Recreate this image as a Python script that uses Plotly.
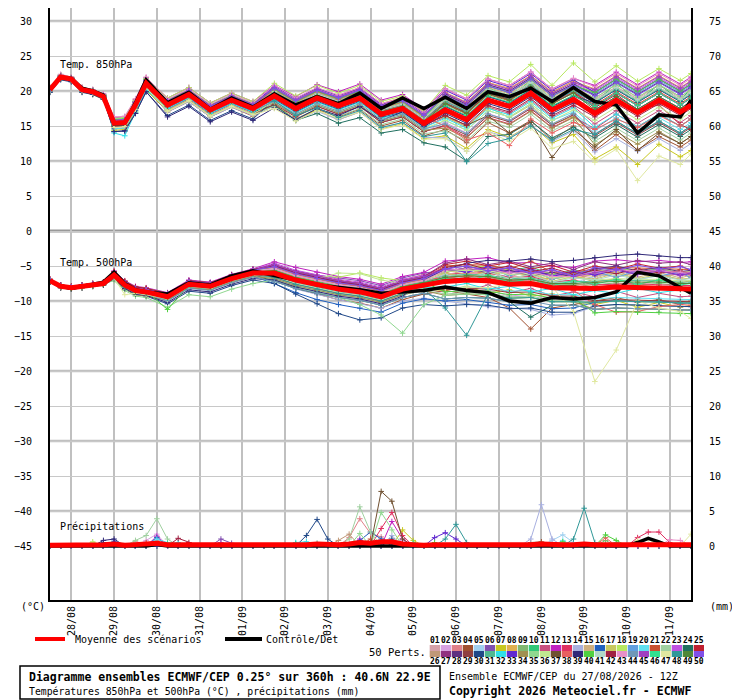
import pandas as pd
import plotly.graph_objects as go

# forecast hours after the 27/08/2026 12Z run
hours = [0, 6, 12, 18, 24, 30, 36, 42, 48, 54, 66, 78, 90, 102, 114, 126, 138, 150,
         162, 174, 186, 198, 210, 222, 234, 246, 258, 270, 282, 294, 306, 318, 330,
         342, 354, 360]
precip_hours = list(range(0, 361, 6))

# colours of the 50 perturbed members (01..50)
member_colors = [
    "#d4a0a8", "#d8a0e0", "#e08088", "#a05030", "#a0d0f0", "#8050b0", "#c8c820", "#e0b050",
    "#80b870", "#30c878", "#c85080", "#c020c0", "#e03060", "#a8b0e0", "#d0b080", "#2060c0",
    "#c8c860", "#b8e860", "#60a0e0", "#60e0f0", "#c85030", "#a0d0a0", "#c050e0", "#207060",
    "#c02030", "#c09878", "#903080", "#603080", "#904040", "#204888", "#50b890", "#30e0e8",
    "#6028d0", "#a09050", "#90d890", "#c0e890", "#705030", "#e86060", "#302878", "#50d040",
    "#b0d8c8", "#a02040", "#e890c8", "#7098b8", "#a040c0", "#30e090", "#e0e8a0", "#309898",
    "#508838", "#8050e8",
]

# Temperature 850 hPa (°C)
t850_mean = [20.2, 22.0, 21.7, 20.2, 19.9, 19.2, 15.4, 15.5, 18.0, 21.1, 18.0, 19.5, 17.3, 18.7, 17.5,
             19.3, 17.5, 19.0, 17.9, 19.0, 16.7, 17.5, 15.4, 17.3, 15.9, 18.7, 17.8, 19.7, 17.3, 18.8,
             16.8, 18.7, 16.9, 18.7, 17.0, 18.0]
t850_control = [20.2, 22.0, 21.8, 20.4, 20.0, 19.4, 15.3, 15.4, 18.3, 21.6, 18.3, 19.8, 17.4, 19.0, 17.7,
                19.6, 18.0, 19.2, 18.2, 19.7, 17.5, 19.0, 17.5, 19.1, 17.5, 19.9, 19.2, 20.4, 18.5, 20.5,
                18.5, 18.0, 14.0, 16.6, 16.3, 18.7]
t850_members = [
    [20.3,22.1,21.8,20.3,20.0,19.3,15.8,15.9,18.4,21.5,18.5,20.0,17.8,19.2,18.0,19.9,18.1,19.7,18.7,19.8,17.6,18.4,16.4,18.6,17.4,20.3,19.3,21.2,18.9,20.4,18.8,20.6,18.9,20.8,19.0,20.0],
    [20.1,21.9,21.6,20.1,19.8,19.1,15.1,15.2,17.7,20.8,17.5,19.0,16.8,18.2,17.0,18.6,16.7,18.1,16.9,18.0,15.6,16.4,14.2,15.5,14.0,16.8,15.7,17.6,15.1,16.5,13.9,15.7,13.8,15.6,14.0,15.0],
    [20.4,22.3,21.9,20.5,20.1,19.5,16.0,16.1,18.6,21.8,18.3,19.8,17.6,19.0,17.9,20.0,18.4,20.0,19.1,20.4,18.0,18.9,17.0,19.5,18.3,21.2,20.4,22.2,19.9,21.4,19.8,21.7,19.9,21.7,20.0,21.0],
    [20.0,21.8,21.5,20.0,19.6,18.9,14.6,14.7,17.2,20.3,17.0,18.5,16.3,17.7,16.4,18.0,16.0,17.4,16.3,17.4,15.0,15.8,13.6,14.5,12.6,15.5,14.0,15.8,13.0,15.0,11.5,13.8,11.6,13.5,12.0,13.0],
    [20.2,22.0,21.7,20.3,20.0,19.3,15.6,15.7,18.2,21.3,18.8,20.3,18.1,19.5,18.3,20.2,18.4,20.0,18.9,20.0,17.7,18.6,16.5,19.2,17.9,20.7,19.8,21.7,19.3,20.8,19.3,21.2,19.4,21.2,19.5,20.5],
    [20.3,22.1,21.8,20.3,20.0,19.3,15.7,15.8,18.3,21.4,18.0,19.5,17.3,18.8,17.6,19.7,17.9,19.5,18.4,19.5,17.2,18.0,16.0,18.3,16.9,19.7,18.8,20.7,18.4,20.0,18.3,20.2,18.4,20.2,18.5,19.5],
    [19.9,21.7,21.4,19.9,19.5,18.8,14.4,14.5,17.0,20.1,17.2,18.7,16.5,17.8,16.6,18.0,15.9,17.3,15.9,17.0,14.6,15.3,13.2,13.6,11.8,14.5,13.4,15.2,12.6,13.8,10.3,12.0,9.5,12.4,10.6,11.5],
    [20.4,22.2,21.9,20.4,20.1,19.5,15.9,16.0,18.5,21.6,18.7,20.2,18.0,19.4,18.3,20.4,18.7,20.4,19.4,20.5,18.2,19.1,17.0,19.8,18.4,21.2,20.3,22.2,19.8,21.4,20.3,22.2,20.4,22.2,20.5,21.5],
    [20.2,22.0,21.6,20.2,19.9,19.2,15.2,15.3,17.8,20.9,18.2,19.7,17.5,18.9,17.7,19.6,17.8,19.3,18.2,19.3,17.0,17.8,15.7,17.8,16.4,19.2,18.3,20.2,17.8,19.2,16.8,18.6,16.9,18.7,17.0,18.0],
    [20.3,22.1,21.8,20.3,20.1,19.3,15.8,15.9,18.4,21.5,18.5,20.0,17.8,19.2,18.0,20.2,18.4,20.0,18.9,20.0,17.7,18.5,16.4,19.2,16.8,20.6,18.8,21.6,18.2,20.8,18.2,21.2,18.4,21.0,18.6,20.4],
    [20.1,21.9,21.6,20.1,19.8,19.1,15.4,15.5,18.0,21.1,17.7,19.2,17.0,18.4,17.2,18.8,17.0,18.5,17.4,18.5,16.2,16.9,14.8,16.3,14.9,17.7,16.8,18.7,16.3,17.8,15.3,17.2,15.4,17.2,15.5,16.5],
    [20.5,22.3,22.0,20.5,20.2,19.6,16.2,16.3,18.8,21.9,19.0,20.5,18.3,19.7,18.5,20.8,19.2,20.9,19.9,21.0,18.7,19.5,17.4,20.3,18.9,21.7,20.8,22.7,20.3,21.8,20.8,22.7,20.9,22.7,21.0,22.0],
    [20.2,22.0,21.7,20.2,19.8,19.2,15.1,15.2,17.7,20.8,17.4,18.9,16.7,18.1,16.9,18.3,16.4,17.8,16.7,17.8,15.5,16.3,14.2,15.0,13.4,16.2,15.3,17.2,14.8,16.3,14.6,16.7,14.9,16.7,15.0,16.0],
    [20.0,21.8,21.5,20.0,19.7,19.0,14.9,15.0,17.5,20.6,17.0,18.5,16.3,17.7,16.5,17.9,15.8,17.1,15.9,17.0,14.7,15.5,13.4,13.3,11.4,14.2,13.3,15.2,12.8,14.3,11.3,13.2,11.4,13.2,11.5,12.5],
    [20.3,22.1,21.8,20.3,20.0,19.3,15.7,15.8,18.3,21.4,18.2,19.7,17.5,18.9,17.8,20.0,18.3,19.8,18.7,19.8,17.5,18.3,16.2,19.1,17.7,20.5,19.6,21.5,19.1,20.6,19.0,20.9,19.1,20.9,19.2,20.2],
    [20.1,21.9,21.6,20.1,19.8,19.1,15.0,15.1,17.6,20.7,18.3,19.8,17.6,19.0,17.8,19.9,18.1,19.6,18.5,19.6,17.3,18.1,16.0,18.5,17.1,19.9,19.0,20.9,18.5,20.0,17.8,19.7,17.9,19.7,18.0,19.0],
    [20.4,22.2,21.9,20.4,20.1,19.4,15.9,16.0,18.5,21.6,18.6,20.1,17.9,19.3,18.1,19.5,17.7,19.2,18.1,19.2,16.9,17.7,15.6,16.3,14.9,17.7,16.2,18.0,15.3,16.3,13.8,15.7,13.9,15.7,14.0,15.0],
    [20.5,22.3,22.0,20.5,20.2,19.5,16.1,16.2,18.7,21.8,19.0,20.5,18.3,19.7,18.5,21.1,19.3,20.8,19.7,20.8,18.5,19.3,17.2,20.8,19.4,22.2,21.3,23.8,20.8,24.0,21.3,23.6,21.4,23.2,21.5,22.5],
    [20.2,22.0,21.7,20.2,19.9,19.2,15.5,15.6,18.1,21.2,18.4,19.9,17.7,19.1,17.9,20.2,18.4,19.9,18.8,19.9,17.6,18.4,16.3,19.3,17.9,20.7,19.8,21.7,19.3,20.8,19.6,21.5,19.7,21.5,19.8,20.8],
    [20.0,21.8,21.5,20.0,19.7,19.0,14.6,14.7,17.2,20.3,17.5,19.0,16.8,18.2,17.0,18.3,16.5,18.0,16.9,18.0,15.7,16.5,14.4,15.8,14.4,17.2,16.3,18.2,15.8,17.0,14.3,16.2,14.4,16.2,14.5,15.5],
    [20.2,22.0,21.7,20.2,19.9,19.2,15.6,15.7,18.2,21.3,18.0,19.5,17.3,18.7,17.5,19.6,17.8,19.3,18.2,19.3,17.0,17.8,15.7,18.1,16.7,19.5,18.6,20.5,18.1,19.8,18.0,19.9,18.1,19.9,18.2,19.2],
    [19.9,21.7,21.4,19.9,19.6,18.9,14.8,14.9,17.4,20.5,17.2,18.7,16.5,17.9,16.7,17.8,16.0,17.5,16.4,17.5,15.2,16.0,13.9,14.3,12.9,15.7,14.8,16.7,14.3,15.8,12.8,14.7,12.9,14.7,13.0,14.0],
    [20.4,22.2,21.9,20.4,20.1,19.4,15.9,16.0,18.5,21.6,18.5,20.0,17.8,19.2,18.0,20.5,18.7,20.2,19.1,20.2,17.9,18.7,16.6,19.5,18.1,20.9,20.0,21.9,19.5,21.0,20.0,21.9,20.1,21.9,20.2,21.2],
    [20.0,21.8,21.5,20.0,19.7,19.0,15.0,15.1,17.6,20.7,17.5,19.0,16.8,18.2,17.0,18.0,15.8,16.8,15.4,16.2,14.0,14.5,12.6,12.0,10.0,13.5,13.8,15.7,13.3,14.8,13.3,15.2,13.4,15.2,13.5,14.5],
    [20.2,22.0,21.7,20.2,19.9,19.2,15.4,15.5,18.0,21.1,18.2,19.7,17.5,18.9,17.7,19.8,18.0,19.5,18.4,19.5,17.2,18.0,15.9,18.3,16.9,19.7,18.8,20.7,18.3,19.8,17.6,19.5,17.3,18.0,15.2,14.5],
    [20.3,22.1,21.8,20.3,20.0,19.3,15.8,15.9,18.4,21.5,18.2,19.7,17.5,18.9,17.7,19.9,18.1,19.6,18.5,19.6,17.3,18.1,16.0,18.7,17.3,20.1,19.2,21.1,18.7,20.2,18.6,20.5,18.7,20.5,18.8,19.8],
    [20.1,21.9,21.6,20.1,19.8,19.1,15.2,15.3,17.8,20.9,17.6,19.1,16.9,18.3,17.1,19.5,17.7,19.2,18.1,19.2,16.9,17.7,15.6,17.8,16.4,19.2,18.3,20.2,17.8,19.3,17.8,19.7,17.9,19.7,18.0,19.0],
    [20.3,22.1,21.8,20.3,20.0,19.3,15.6,15.7,18.2,21.3,18.5,20.0,17.8,19.2,18.0,20.3,18.5,20.0,18.9,20.0,17.7,18.5,16.4,19.5,18.1,20.9,20.0,21.9,19.5,21.0,19.4,21.3,19.5,21.3,19.6,20.6],
    [20.0,21.8,21.5,20.0,19.7,19.0,14.9,15.0,17.5,20.6,17.2,18.7,16.5,17.9,16.7,18.1,16.3,17.8,16.7,17.8,15.5,16.3,14.2,15.1,13.7,16.5,15.6,17.5,15.1,16.6,13.6,15.5,13.7,15.5,13.8,14.8],
    [19.8,21.6,21.3,19.8,19.5,18.8,14.2,14.3,16.8,19.9,16.5,18.0,15.8,17.2,16.0,18.8,17.0,18.5,17.4,18.5,16.2,17.0,14.9,17.8,16.4,19.2,18.3,20.2,17.8,19.3,18.3,20.2,18.4,20.2,18.5,19.5],
    [20.2,22.0,21.7,20.2,19.9,19.2,15.5,15.6,18.1,21.2,18.0,19.5,17.3,18.7,17.5,19.7,17.9,19.4,18.3,19.4,17.1,17.9,15.8,18.5,17.1,19.9,19.0,20.9,18.5,20.0,18.4,20.3,18.5,20.3,18.6,19.6],
    [20.4,22.2,21.9,20.4,20.1,19.4,14.0,13.6,17.0,20.2,17.5,19.0,16.8,18.2,17.0,18.7,16.9,18.4,17.3,18.4,16.1,16.9,14.8,16.1,14.7,17.5,16.6,18.5,16.1,17.6,14.8,16.7,14.9,16.7,15.0,16.0],
    [20.3,22.1,21.8,20.3,20.0,19.3,15.7,15.8,18.3,21.4,18.6,20.1,17.9,19.3,18.1,20.7,18.9,20.4,19.3,20.4,18.1,18.9,16.8,20.1,18.7,21.5,20.6,22.5,20.1,21.6,19.8,21.7,19.9,21.7,20.0,21.0],
    [20.1,21.9,21.6,20.1,19.8,19.1,15.1,15.2,17.7,20.8,17.8,19.3,17.1,18.5,17.3,18.3,16.5,18.0,16.9,18.0,15.7,16.5,14.4,14.7,13.3,16.1,15.2,17.1,14.7,16.2,12.3,14.2,12.4,14.2,12.5,13.5],
    [20.4,22.3,21.9,20.4,20.1,19.4,16.0,16.1,18.6,21.7,18.4,19.9,17.7,19.1,17.9,20.1,18.3,19.8,18.7,19.8,17.5,18.3,16.2,18.9,17.5,20.3,19.4,21.3,18.9,20.4,19.0,20.9,19.1,20.9,19.2,20.2],
    [20.1,21.9,21.6,20.1,19.8,19.1,15.2,15.3,17.8,20.9,17.2,18.7,16.5,17.9,16.7,18.5,16.7,18.2,17.1,18.2,15.9,16.7,14.6,15.8,14.4,17.2,16.3,18.2,15.8,17.3,15.8,17.7,15.9,17.7,16.0,17.0],
    [20.2,22.0,21.7,20.2,19.9,19.2,15.7,15.8,18.3,21.4,18.1,19.6,17.4,18.8,17.6,19.0,17.2,18.7,17.6,18.7,16.4,17.2,15.1,16.5,15.1,16.5,14.0,15.5,10.5,14.5,12.0,14.5,11.5,14.0,12.5,13.5],
    [20.3,22.1,21.8,20.3,20.0,19.3,15.6,15.7,18.2,21.3,18.4,19.9,17.7,19.1,17.9,20.2,18.4,19.9,18.8,19.9,17.6,18.4,16.3,15.0,13.0,14.0,12.2,16.0,14.0,15.5,14.5,16.0,14.8,16.5,15.0,16.0],
    [19.9,21.7,21.4,19.9,19.6,18.9,14.2,14.3,16.8,19.9,16.3,17.8,15.6,17.0,15.8,17.6,15.9,17.5,16.5,17.8,15.8,17.0,14.9,16.8,15.4,18.2,17.3,19.2,16.8,18.3,17.3,19.2,17.4,19.2,17.5,18.5],
    [20.4,22.2,21.9,20.4,20.1,19.4,15.9,16.0,18.5,21.6,18.7,20.2,18.0,19.4,18.2,20.3,18.5,20.0,18.9,20.0,17.7,18.5,16.4,19.3,17.9,20.7,19.8,21.7,19.3,20.8,19.8,21.7,19.9,21.7,20.0,21.0],
    [20.2,22.0,21.7,20.2,19.9,19.2,15.3,15.4,17.9,21.0,18.2,19.7,17.5,18.9,17.7,19.9,18.1,19.6,18.5,19.6,17.3,18.1,16.0,18.8,17.4,20.2,19.3,21.2,18.8,20.3,18.6,20.5,18.7,20.5,18.8,19.8],
    [20.1,21.9,21.6,20.1,19.8,19.1,15.0,15.1,17.6,20.7,17.8,19.3,17.1,18.5,17.3,19.0,17.2,18.7,17.6,18.7,16.4,17.2,15.1,16.5,15.1,17.9,17.0,18.9,16.5,18.0,16.3,18.2,16.4,18.2,16.5,17.5],
    [20.5,22.4,22.0,20.5,20.2,19.6,16.3,16.4,18.9,22.0,18.8,20.3,18.1,19.5,18.3,20.8,19.0,20.5,19.4,20.5,18.2,19.0,16.9,20.3,18.9,21.7,20.8,22.7,20.3,21.8,20.6,22.5,20.7,22.5,20.8,21.8],
    [20.2,22.0,21.7,20.2,19.9,19.2,15.4,15.5,18.0,21.1,17.7,19.2,17.0,18.4,17.2,18.5,16.7,18.2,17.1,18.2,15.9,16.7,14.6,15.3,13.9,16.7,15.8,17.7,15.3,16.8,13.8,15.7,13.9,15.7,14.0,15.0],
    [20.4,22.2,21.9,20.4,20.1,19.4,15.8,15.9,18.4,21.5,18.6,20.1,17.9,19.3,18.1,20.5,18.7,20.2,19.1,20.2,17.9,18.7,16.6,19.7,18.3,21.1,20.2,22.1,19.7,21.2,20.2,22.1,20.3,22.1,20.4,21.4],
    [20.1,21.9,21.6,20.1,19.8,19.1,15.1,15.2,17.7,20.8,18.0,19.5,17.3,18.7,17.5,19.5,17.7,19.2,18.1,19.2,16.9,17.7,15.6,17.9,16.5,19.3,18.4,20.3,17.9,19.4,17.8,19.7,17.9,19.7,18.0,19.0],
    [20.0,21.8,21.5,20.0,19.7,19.0,14.8,14.9,17.4,20.5,17.1,18.6,16.4,17.8,16.6,17.5,15.7,17.2,16.1,17.0,14.5,15.2,13.1,13.2,11.4,14.2,12.8,14.7,11.8,12.8,9.8,11.7,7.2,10.7,9.5,11.0],
    [20.2,22.0,21.7,20.2,19.9,19.2,15.5,15.6,18.1,21.2,18.3,19.8,17.6,19.0,17.8,18.6,16.5,17.6,16.2,17.2,14.8,15.5,13.5,14.0,9.9,12.5,13.2,15.0,13.0,14.5,13.8,15.7,13.9,15.7,14.0,15.0],
    [20.3,22.1,21.8,20.3,20.0,19.3,15.6,15.7,18.2,21.3,17.8,19.3,17.1,18.5,17.3,19.6,17.8,19.3,18.2,19.3,17.0,17.8,15.7,18.2,16.8,19.6,18.7,20.6,18.2,19.7,17.3,19.2,17.4,19.2,17.5,18.5],
    [20.2,22.0,21.7,20.2,19.9,19.2,15.8,15.9,18.4,21.5,18.5,20.0,17.8,19.2,18.0,20.4,18.6,20.1,19.0,20.1,17.8,18.6,16.5,19.3,17.9,20.7,19.8,21.7,19.3,20.8,19.3,21.2,19.4,21.2,19.5,20.5],
]

# Temperature 500 hPa (°C)
t500_mean = [-7.1, -7.9, -8.1, -7.9, -7.7, -7.5, -6.3, -7.7, -8.5, -8.7, -9.4, -7.6, -7.9, -6.8, -6.0,
             -6.0, -7.0, -7.7, -8.3, -8.7, -9.4, -8.3, -7.7, -7.2, -7.0, -7.1, -7.6, -7.5, -8.1, -8.1,
             -8.2, -8.0, -8.1, -8.1, -8.3, -8.3]
t500_control = [-7.1, -7.9, -8.2, -7.9, -7.6, -7.3, -5.9, -7.5, -8.4, -8.7, -9.0, -7.4, -7.7, -6.4, -5.7,
                -6.3, -7.0, -7.7, -8.0, -8.4, -8.9, -8.7, -8.5, -8.0, -8.5, -8.8, -10.0, -10.3, -9.5, -9.7,
                -9.5, -8.7, -5.9, -6.4, -8.1, -8.9]
t500_members = [
    [-7.0,-7.8,-8.0,-7.8,-7.6,-7.4,-6.0,-7.4,-8.2,-8.4,-9.1,-7.3,-7.6,-6.5,-5.7,-5.4,-6.3,-6.9,-7.5,-7.8,-8.6,-7.5,-6.7,-5.9,-5.2,-6.0,-6.6,-5.6,-6.9,-6.1,-6.8,-5.6,-6.0,-6.4,-6.2,-6.0],
    [-7.2,-8.0,-8.2,-8.0,-7.8,-7.6,-6.6,-8.0,-8.8,-9.0,-9.8,-8.0,-8.3,-7.3,-6.5,-6.8,-7.9,-8.7,-9.3,-9.7,-10.4,-9.5,-9.0,-8.6,-8.7,-8.4,-9.3,-9.0,-9.8,-9.4,-10.3,-9.8,-10.2,-10.0,-10.4,-10.2],
    [-6.9,-7.7,-7.9,-7.7,-7.5,-7.3,-5.8,-7.2,-8.0,-8.2,-8.9,-7.1,-7.4,-6.3,-5.5,-5.2,-6.1,-6.7,-7.2,-7.5,-8.2,-7.0,-6.2,-5.9,-5.4,-6.2,-5.7,-6.5,-6.0,-6.8,-6.1,-6.6,-5.9,-6.5,-6.1,-6.6],
    [-7.1,-7.9,-8.1,-7.9,-7.7,-7.5,-6.5,-7.9,-8.7,-8.9,-9.8,-8.0,-8.3,-7.3,-6.6,-6.9,-8.2,-9.0,-9.8,-10.3,-11.0,-9.8,-9.0,-8.5,-9.0,-9.5,-11.0,-14.0,-11.0,-10.5,-10.0,-9.5,-10.2,-9.8,-10.5,-10.0],
    [-7.0,-7.8,-8.0,-7.8,-7.6,-7.4,-6.1,-7.5,-8.3,-8.5,-9.2,-7.4,-7.7,-6.6,-5.8,-5.6,-6.5,-7.2,-7.8,-8.2,-8.8,-7.7,-7.1,-6.3,-6.8,-5.9,-6.5,-7.2,-6.6,-7.4,-6.5,-6.0,-7.0,-6.3,-6.9,-7.2],
    [-7.1,-7.9,-8.1,-7.9,-7.7,-7.5,-6.0,-7.4,-8.2,-8.4,-8.9,-7.1,-7.4,-6.3,-5.5,-4.9,-5.7,-6.3,-6.7,-7.1,-7.8,-6.7,-6.0,-5.6,-5.3,-5.0,-6.0,-5.5,-6.3,-6.2,-5.6,-5.2,-5.9,-5.4,-6.0,-5.7],
    [-7.3,-8.1,-8.3,-8.1,-7.9,-7.7,-6.8,-8.2,-9.0,-9.2,-9.7,-7.9,-8.2,-7.1,-6.3,-6.4,-7.5,-8.2,-8.8,-9.2,-9.9,-8.9,-8.3,-8.5,-7.9,-8.9,-8.4,-9.3,-9.0,-10.0,-10.5,-9.9,-10.9,-10.2,-10.9,-10.6],
    [-7.0,-7.8,-8.0,-7.8,-7.6,-7.4,-5.9,-7.3,-8.1,-8.3,-9.1,-7.3,-7.6,-6.5,-5.7,-5.0,-5.9,-6.5,-7.0,-7.5,-8.2,-7.1,-6.4,-5.9,-5.4,-6.2,-5.8,-6.4,-6.9,-6.3,-7.3,-6.8,-7.6,-7.0,-7.4,-7.1],
    [-7.1,-7.9,-8.1,-7.9,-7.7,-7.5,-6.4,-7.8,-8.6,-8.8,-9.4,-7.6,-7.9,-6.8,-6.0,-5.8,-6.8,-7.5,-8.1,-8.4,-9.2,-8.1,-7.5,-6.8,-6.4,-6.6,-7.2,-6.9,-7.6,-7.6,-7.7,-7.4,-7.7,-7.5,-7.8,-7.8],
    [-7.0,-7.8,-8.0,-7.8,-7.6,-7.4,-6.1,-7.5,-8.3,-8.5,-9.0,-7.2,-7.5,-6.4,-5.6,-5.1,-6.0,-6.7,-7.3,-7.7,-8.4,-7.3,-6.7,-5.4,-5.8,-4.9,-5.7,-5.1,-6.3,-5.6,-6.0,-5.2,-5.9,-5.4,-6.1,-5.8],
    [-7.2,-8.0,-8.2,-8.0,-7.8,-7.6,-6.5,-7.9,-8.7,-8.9,-9.7,-7.9,-8.2,-7.1,-6.3,-6.5,-7.5,-8.2,-8.8,-9.2,-9.9,-8.8,-8.2,-8.0,-8.6,-7.7,-8.8,-8.2,-9.3,-8.7,-9.4,-8.6,-9.5,-8.9,-9.4,-9.3],
    [-6.9,-7.7,-7.9,-7.7,-7.5,-7.3,-5.7,-7.1,-7.9,-8.1,-8.8,-7.0,-7.3,-6.2,-5.4,-4.4,-5.2,-5.9,-6.5,-6.9,-7.6,-6.5,-5.9,-4.3,-4.0,-3.8,-4.6,-4.5,-5.0,-5.2,-4.3,-4.1,-4.4,-4.2,-4.5,-4.4],
    [-7.1,-7.9,-8.1,-7.9,-7.7,-7.5,-6.3,-7.7,-8.5,-8.7,-9.6,-7.8,-8.1,-7.0,-6.2,-5.5,-6.5,-7.2,-7.8,-8.2,-8.9,-7.8,-7.2,-6.2,-6.0,-6.0,-6.6,-6.5,-7.3,-7.0,-7.7,-7.6,-7.5,-7.7,-7.8,-7.8],
    [-7.2,-8.0,-8.2,-8.0,-7.8,-7.6,-6.6,-8.0,-8.8,-9.0,-9.9,-8.1,-8.4,-7.3,-6.5,-7.0,-8.3,-9.1,-9.8,-10.4,-11.0,-10.0,-9.6,-10.0,-10.4,-10.8,-11.0,-11.2,-12.0,-11.8,-10.8,-10.5,-10.5,-10.7,-10.8,-10.8],
    [-7.0,-7.8,-8.0,-7.8,-7.6,-7.4,-6.1,-7.5,-8.3,-8.5,-9.1,-7.3,-7.6,-6.5,-5.7,-5.2,-6.2,-6.9,-7.5,-7.9,-8.6,-7.5,-6.9,-5.6,-6.2,-5.3,-6.4,-5.7,-6.8,-6.1,-6.5,-5.8,-6.6,-5.9,-6.7,-6.3],
    [-7.1,-7.9,-8.1,-7.9,-7.7,-7.5,-6.5,-7.9,-8.7,-8.9,-9.9,-8.1,-8.4,-7.3,-6.5,-7.5,-8.8,-9.8,-10.5,-11.0,-11.6,-10.3,-9.7,-10.0,-9.8,-10.2,-10.6,-10.5,-11.1,-11.0,-10.2,-9.9,-10.1,-10.0,-10.3,-10.3],
    [-7.0,-7.8,-8.0,-7.8,-7.6,-7.4,-5.9,-7.3,-8.1,-8.3,-9.2,-7.4,-7.7,-6.6,-5.8,-5.4,-6.4,-7.1,-7.7,-8.1,-8.8,-7.7,-7.1,-6.0,-6.6,-5.7,-6.9,-6.1,-7.2,-6.5,-6.9,-6.0,-6.8,-6.2,-6.9,-6.7],
    [-6.9,-7.7,-7.9,-7.7,-7.5,-7.3,-5.8,-7.2,-8.0,-8.2,-8.9,-7.1,-7.4,-6.3,-5.5,-4.8,-5.8,-6.5,-6.6,-6.0,-6.7,-7.1,-6.5,-5.2,-5.0,-5.1,-5.6,-5.5,-6.1,-6.1,-5.7,-5.5,-5.6,-5.6,-5.8,-5.8],
    [-7.1,-7.9,-8.1,-7.9,-7.7,-7.5,-6.1,-7.5,-8.3,-8.5,-9.1,-7.3,-7.6,-6.5,-5.7,-5.2,-6.2,-6.9,-7.5,-7.9,-8.6,-7.5,-6.9,-5.4,-5.9,-5.2,-6.4,-5.6,-6.9,-6.2,-5.8,-6.6,-5.7,-6.4,-5.9,-6.7],
    [-7.2,-8.0,-8.2,-8.0,-7.8,-7.6,-6.6,-8.0,-8.8,-9.0,-9.8,-8.0,-8.3,-7.2,-6.4,-6.8,-7.8,-8.5,-9.1,-9.5,-10.2,-9.1,-8.5,-8.2,-8.0,-8.1,-8.6,-8.5,-9.1,-9.1,-9.7,-9.5,-9.6,-9.6,-9.8,-9.8],
    [-7.0,-7.8,-8.0,-7.8,-7.6,-7.4,-6.0,-7.4,-8.2,-8.4,-9.0,-7.2,-7.5,-6.4,-5.6,-5.0,-6.0,-6.7,-7.3,-7.7,-8.4,-7.3,-6.7,-5.0,-4.8,-4.9,-5.4,-4.3,-5.9,-5.9,-5.4,-5.2,-5.3,-5.3,-5.5,-5.5],
    [-7.3,-8.1,-8.3,-8.1,-7.9,-7.7,-6.7,-8.1,-8.9,-9.1,-9.7,-7.9,-8.2,-7.1,-6.3,-6.8,-7.8,-8.5,-9.1,-9.5,-10.2,-9.1,-8.5,-9.0,-8.8,-8.9,-9.4,-9.3,-9.9,-9.9,-10.7,-10.5,-10.6,-10.6,-10.8,-10.8],
    [-7.0,-7.8,-8.0,-7.8,-7.6,-7.4,-5.9,-7.3,-8.1,-8.3,-8.9,-7.1,-7.4,-6.3,-5.5,-4.6,-5.6,-6.3,-6.9,-7.3,-8.0,-6.9,-6.3,-5.3,-5.9,-5.0,-5.8,-5.3,-6.4,-5.7,-6.2,-5.4,-5.9,-5.5,-6.1,-5.9],
    [-7.1,-7.9,-8.1,-7.9,-7.7,-7.5,-6.5,-7.9,-8.7,-8.9,-9.6,-7.8,-8.1,-7.0,-6.2,-7.2,-8.2,-8.9,-9.5,-9.9,-10.6,-9.5,-8.9,-9.7,-9.5,-9.6,-10.1,-12.3,-10.6,-10.6,-11.2,-11.0,-11.1,-11.1,-11.3,-11.3],
    [-6.9,-7.7,-7.9,-7.7,-7.5,-7.3,-5.8,-7.2,-8.0,-8.2,-9.0,-7.2,-7.5,-6.4,-5.6,-4.8,-5.8,-6.5,-7.1,-7.5,-8.2,-7.1,-6.5,-4.8,-4.3,-5.0,-4.5,-5.4,-4.9,-5.9,-5.0,-5.5,-4.7,-5.3,-5.0,-5.6],
    [-7.1,-7.9,-8.1,-7.9,-7.7,-7.5,-6.2,-7.6,-8.4,-8.6,-9.4,-7.6,-7.9,-6.8,-6.0,-5.7,-6.7,-7.4,-8.0,-8.4,-9.1,-8.0,-7.4,-6.6,-6.4,-6.5,-7.0,-6.9,-7.5,-7.5,-8.0,-7.8,-7.9,-7.9,-8.1,-8.1],
    [-7.0,-7.8,-8.0,-7.8,-7.6,-7.4,-6.0,-7.4,-8.2,-8.4,-8.9,-7.1,-7.4,-6.3,-5.5,-4.8,-5.8,-6.5,-7.1,-7.5,-8.2,-7.1,-6.5,-4.6,-4.0,-4.8,-4.3,-5.1,-4.6,-5.5,-4.4,-4.9,-4.2,-4.6,-4.4,-4.8],
    [-7.0,-7.8,-8.0,-7.8,-7.6,-7.4,-6.1,-7.5,-8.3,-8.5,-9.1,-7.3,-7.6,-6.5,-5.7,-5.0,-6.0,-6.7,-7.3,-7.7,-8.4,-7.3,-6.7,-5.8,-5.3,-6.0,-5.6,-6.4,-5.9,-6.6,-5.4,-5.0,-5.7,-5.2,-5.8,-5.6],
    [-7.2,-8.0,-8.2,-8.0,-7.8,-7.6,-6.5,-7.9,-8.7,-8.9,-9.7,-7.9,-8.2,-7.1,-6.3,-6.6,-7.6,-8.3,-8.9,-9.3,-10.0,-8.9,-8.3,-8.4,-8.2,-8.3,-8.8,-8.7,-9.3,-9.3,-10.0,-9.8,-9.9,-9.9,-10.1,-10.1],
    [-7.3,-8.1,-8.3,-8.1,-7.9,-7.7,-6.9,-8.3,-9.1,-9.3,-10.4,-8.6,-8.9,-7.8,-7.0,-7.5,-9.0,-10.4,-11.8,-12.7,-12.4,-11.0,-10.5,-10.7,-10.5,-10.6,-11.1,-11.0,-11.6,-11.6,-10.7,-10.5,-10.6,-10.6,-10.8,-10.8],
    [-7.1,-7.9,-8.1,-7.9,-7.7,-7.5,-6.3,-7.7,-8.5,-8.7,-9.3,-7.5,-7.8,-6.7,-5.9,-5.6,-6.6,-7.3,-7.9,-8.3,-9.0,-7.9,-7.3,-6.4,-6.2,-6.3,-6.8,-6.7,-7.3,-7.3,-7.2,-7.0,-7.1,-7.1,-7.3,-7.3],
    [-7.1,-7.9,-8.1,-7.9,-7.7,-7.5,-6.7,-8.1,-8.9,-9.1,-9.8,-8.0,-8.3,-7.2,-6.4,-6.4,-7.4,-8.1,-8.7,-9.1,-9.8,-8.7,-8.1,-8.0,-7.5,-8.3,-7.9,-8.7,-8.2,-9.1,-8.5,-8.9,-8.2,-8.8,-8.4,-8.9],
    [-7.0,-7.8,-8.0,-7.8,-7.6,-7.4,-6.0,-7.4,-8.2,-8.4,-9.0,-7.2,-7.5,-6.4,-5.6,-5.0,-6.0,-6.7,-7.3,-7.7,-8.4,-7.3,-6.7,-5.4,-5.9,-5.1,-6.0,-5.5,-6.5,-5.8,-6.3,-5.6,-6.2,-5.7,-6.3,-6.1],
    [-7.3,-8.1,-8.3,-8.1,-7.9,-7.7,-6.9,-8.3,-9.1,-9.3,-9.9,-8.1,-8.4,-7.3,-6.5,-6.8,-7.8,-8.5,-9.1,-9.5,-10.2,-9.1,-8.5,-9.2,-9.0,-9.1,-9.6,-9.5,-10.1,-10.1,-11.2,-11.0,-11.1,-11.1,-11.3,-11.3],
    [-7.1,-7.9,-8.1,-7.9,-7.7,-7.5,-7.1,-8.5,-9.3,-9.5,-10.9,-9.1,-9.4,-8.3,-7.5,-7.0,-8.0,-8.7,-9.5,-10.5,-12.0,-14.6,-10.5,-9.2,-9.0,-9.1,-9.6,-9.5,-10.1,-10.1,-10.2,-10.0,-10.1,-10.1,-10.3,-10.3],
    [-7.0,-7.8,-8.0,-7.8,-7.6,-7.4,-6.1,-7.5,-8.3,-8.5,-9.1,-7.3,-7.6,-6.5,-5.7,-5.2,-6.2,-6.9,-6.0,-6.1,-7.0,-7.5,-6.9,-5.8,-5.6,-5.7,-6.2,-6.1,-6.7,-6.7,-7.0,-6.8,-6.9,-6.9,-7.1,-7.1],
    [-7.2,-8.0,-8.2,-8.0,-7.8,-7.6,-6.4,-7.8,-8.6,-8.8,-9.4,-7.6,-7.9,-6.8,-6.0,-5.8,-6.8,-7.5,-8.1,-8.5,-9.2,-8.1,-7.5,-6.9,-6.7,-6.8,-7.3,-7.2,-7.8,-7.8,-8.2,-8.0,-8.1,-8.1,-8.3,-8.3],
    [-7.0,-7.8,-8.0,-7.8,-7.6,-7.4,-6.0,-7.4,-8.2,-8.4,-9.0,-7.2,-7.5,-6.4,-5.6,-5.2,-6.2,-6.9,-7.5,-7.9,-8.6,-7.5,-6.9,-6.7,-6.5,-6.6,-7.1,-7.0,-7.6,-8.5,-10.5,-11.6,-11.5,-10.8,-10.5,-10.6],
    [-7.3,-8.1,-8.3,-8.1,-7.9,-7.7,-6.8,-8.2,-9.0,-9.2,-10.2,-8.4,-8.7,-7.6,-6.8,-7.0,-8.0,-8.7,-9.3,-9.7,-10.4,-9.3,-7.0,-5.5,-4.6,-4.2,-4.3,-4.0,-4.4,-4.2,-3.8,-3.5,-3.3,-3.6,-3.8,-3.8],
    [-7.1,-7.9,-8.1,-7.9,-7.7,-7.5,-6.2,-7.6,-8.4,-8.6,-11.2,-7.8,-7.9,-6.6,-5.8,-5.6,-6.6,-7.3,-7.9,-8.3,-9.0,-7.9,-7.3,-8.7,-8.5,-8.6,-9.1,-9.0,-9.6,-9.6,-11.7,-11.5,-11.6,-11.6,-11.8,-11.8],
    [-7.0,-7.8,-8.0,-7.8,-7.6,-7.4,-6.1,-7.5,-8.3,-8.5,-9.1,-7.3,-7.6,-6.5,-5.7,-5.4,-6.4,-7.1,-7.7,-8.1,-8.8,-7.7,-7.1,-6.2,-6.9,-5.8,-6.8,-6.2,-7.3,-6.7,-7.0,-6.3,-6.9,-6.4,-7.0,-6.8],
    [-6.9,-7.7,-7.9,-7.7,-7.5,-7.3,-5.8,-7.2,-8.0,-8.2,-8.9,-7.1,-7.4,-6.3,-5.5,-5.0,-6.0,-6.7,-7.3,-7.7,-8.4,-7.3,-6.7,-5.2,-4.7,-5.5,-5.0,-5.8,-5.3,-6.2,-5.6,-6.1,-5.4,-6.0,-5.7,-6.1],
    [-7.1,-7.9,-8.1,-7.9,-7.7,-7.5,-6.1,-7.5,-8.3,-8.5,-9.2,-7.4,-7.7,-6.6,-5.8,-5.4,-6.4,-7.1,-7.7,-8.1,-8.8,-7.7,-7.1,-5.6,-5.4,-5.5,-6.0,-5.9,-6.5,-6.5,-5.8,-5.6,-5.7,-5.7,-5.9,-5.9],
    [-7.2,-8.0,-8.2,-8.0,-7.8,-7.6,-6.6,-8.0,-8.8,-9.0,-10.0,-8.2,-8.5,-7.4,-6.6,-7.2,-8.2,-8.9,-9.5,-9.9,-10.6,-9.5,-8.9,-9.7,-9.5,-9.6,-10.1,-10.0,-10.6,-10.6,-11.2,-11.0,-11.1,-11.1,-11.3,-11.3],
    [-7.0,-7.8,-8.0,-7.8,-7.6,-7.4,-6.0,-7.4,-8.2,-8.4,-9.0,-7.2,-7.5,-6.4,-5.6,-4.8,-5.8,-6.5,-7.1,-7.5,-8.2,-7.1,-6.5,-5.4,-5.0,-5.7,-5.3,-6.1,-5.6,-6.5,-5.9,-5.4,-6.2,-5.7,-6.4,-6.0],
    [-7.1,-7.9,-8.1,-7.9,-7.7,-7.5,-6.3,-7.7,-8.5,-8.7,-9.3,-7.5,-7.8,-6.7,-5.9,-5.7,-6.7,-7.4,-8.0,-8.4,-9.1,-8.0,-7.4,-6.7,-7.2,-6.3,-7.3,-6.8,-7.8,-7.1,-7.6,-6.9,-7.6,-7.0,-7.7,-7.5],
    [-7.2,-8.0,-8.2,-8.0,-7.8,-7.6,-6.7,-9.1,-8.9,-9.1,-9.7,-7.9,-8.2,-7.1,-6.3,-6.5,-7.5,-8.2,-8.8,-9.2,-9.9,-8.8,-8.2,-8.2,-8.0,-8.1,-7.5,-7.2,-8.0,-11.5,-21.5,-17.0,-10.0,-11.0,-11.5,-12.5],
    [-7.1,-7.9,-8.1,-7.9,-7.7,-7.5,-6.3,-7.7,-8.7,-8.9,-9.6,-7.8,-8.1,-7.0,-6.2,-6.6,-7.6,-8.3,-8.9,-9.3,-10.0,-8.9,-8.3,-11.0,-14.9,-9.0,-9.6,-9.5,-10.1,-10.1,-10.2,-10.0,-10.1,-10.1,-10.3,-10.3],
    [-7.2,-8.0,-8.2,-8.0,-7.8,-7.6,-6.5,-7.9,-8.7,-8.9,-9.4,-7.6,-7.9,-6.8,-6.0,-5.7,-6.7,-7.4,-8.0,-8.4,-9.1,-8.0,-7.4,-6.6,-6.4,-6.5,-7.0,-6.9,-7.5,-7.5,-7.4,-7.2,-7.3,-7.3,-7.5,-7.5],
    [-7.0,-7.8,-8.0,-7.8,-7.6,-7.4,-6.0,-7.4,-8.2,-8.4,-9.0,-7.2,-7.5,-6.4,-5.6,-5.1,-6.1,-6.8,-7.4,-7.8,-8.5,-7.4,-6.8,-5.4,-5.0,-5.7,-5.2,-6.0,-5.5,-6.4,-5.2,-5.6,-4.9,-5.4,-5.1,-5.5],
]

# Precipitation (mm per 6 h), read on the right-hand scale
precip_mean = [0.1, 0.1, 0.1, 0.2, 0.2, 0.2, 0.3, 0.1, 0.2, 0.3,
               0.4, 0.2, 0.2, 0.1, 0.1, 0.1, 0.2, 0.1, 0.1, 0.1,
               0.1, 0.1, 0.1, 0.2, 0.2, 0.3, 0.2, 0.2, 0.3, 0.5,
               0.4, 0.6, 0.6, 0.3, 0.2, 0.1, 0.2, 0.2, 0.2, 0.1,
               0.1, 0.1, 0.1, 0.1, 0.1, 0.2, 0.3, 0.2, 0.2, 0.2,
               0.3, 0.2, 0.2, 0.1, 0.1, 0.2, 0.2, 0.2, 0.1, 0.1,
               0.2]
precip_control = {60: 0.2, 330: 0.5, 336: 1.1, 342: 0.6}
# non-zero rain of each member: {member number: {hour: mm}}
precip_members = {
    2: {54: 0.8, 60: 1.7, 198: 0.8},
    3: {48: 0.6, 60: 0.8, 168: 1.2, 174: 3.9, 180: 1.8, 186: 1.3},
    4: {270: 0.5, 276: 0.6},
    5: {78: 0.3, 282: 0.8, 288: 1.6, 294: 0.5},
    6: {96: 1.0, 102: 0.4},
    7: {60: 0.6, 198: 2.3, 204: 0.8},
    9: {312: 0.8},
    12: {60: 1.4, 174: 1.0, 192: 3.5, 198: 1.0},
    13: {186: 2.5, 192: 4.8, 198: 1.5, 330: 1.2, 336: 2.0, 342: 2.0, 348: 0.5},
    14: {192: 1.5, 270: 1.0, 276: 5.9, 282: 1.0},
    16: {36: 0.7, 60: 1.2, 174: 0.8, 180: 2.0, 186: 1.0},
    18: {24: 0.6},
    20: {60: 1.0, 66: 0.5, 72: 0.4, 138: 0.4, 288: 0.8},
    21: {54: 0.5, 180: 1.0},
    22: {48: 0.8, 54: 1.5, 60: 3.9, 66: 1.0, 168: 1.0, 174: 5.6, 180: 2.0},
    26: {162: 0.8, 168: 1.7},
    30: {30: 0.5, 144: 1.5, 150: 3.8, 156: 1.0, 192: 1.0},
    31: {150: 0.4, 318: 0.5},
    32: {72: 0.5, 138: 0.5, 144: 0.6},
    33: {36: 0.5, 216: 1.2, 222: 1.9, 228: 1.0},
    35: {174: 1.8, 186: 4.8, 192: 2.3},
    36: {24: 0.4},
    37: {186: 7.8, 192: 6.4, 198: 1.0},
    38: {312: 1.2},
    39: {30: 0.8, 36: 1.0},
    40: {216: 0.5, 288: 0.6, 312: 1.6, 318: 0.8},
    42: {72: 1.1, 78: 0.5},
    43: {348: 0.9, 354: 0.8},
    45: {96: 0.5},
    46: {66: 0.4, 138: 0.3, 204: 0.5},
    47: {330: 0.8, 336: 1.0, 360: 1.7},
    48: {222: 1.0, 228: 3.1, 234: 0.5, 294: 1.0, 300: 5.4, 306: 0.5},
}

assert all(len(m) == len(hours) for m in t850_members + t500_members)

run = pd.Timestamp("2026-08-27 12:00")
times = [run + pd.Timedelta(hours=h) for h in hours]
ptimes = [run + pd.Timedelta(hours=h) for h in precip_hours]

FONT = "DejaVu Sans Mono"

fig = go.Figure()

# perturbed members
for i, col in enumerate(member_colors):
    mk = dict(symbol="cross-thin", size=4, line=dict(width=1, color=col))
    common = dict(mode="lines+markers", line=dict(color=col, width=1), marker=mk,
                  showlegend=False, hoverinfo="skip")
    fig.add_trace(go.Scatter(x=times, y=t850_members[i], **common))
    fig.add_trace(go.Scatter(x=times, y=t500_members[i], **common))
    rain = [precip_members.get(i + 1, {}).get(h, 0) for h in precip_hours]
    fig.add_trace(go.Scatter(x=ptimes, y=rain, yaxis="y2", **common))

# control run
ctl = dict(mode="lines", line=dict(color="black", width=3.5), showlegend=False, hoverinfo="skip")
fig.add_trace(go.Scatter(x=times, y=t850_control, **ctl))
fig.add_trace(go.Scatter(x=times, y=t500_control, **ctl))
fig.add_trace(go.Scatter(x=ptimes, y=[precip_control.get(h, 0) for h in precip_hours], yaxis="y2", **ctl))

# ensemble mean
avg = dict(mode="lines", line=dict(color="#ff0000", width=5), showlegend=False, hoverinfo="skip")
fig.add_trace(go.Scatter(x=times, y=t850_mean, **avg))
fig.add_trace(go.Scatter(x=times, y=t500_mean, **avg))
fig.add_trace(go.Scatter(x=ptimes, y=precip_mean, yaxis="y2", **avg))

# the page puts the figure 8 px in from the top-left corner, so the figure is
# 8 px smaller and everything is placed in page pixels
PAD = 8
PLOT_H = 600 - PAD


def px(x):
    return (x - 50) / 641


def py(y):
    return (600 - y) / PLOT_H


shapes = []
for v in (30, 20, 10, -10, -20, -30, -40):
    shapes.append(dict(type="line", xref="paper", x0=0, x1=1, yref="y", y0=v, y1=v,
                       line=dict(color="#c0c0c0", width=2.5), layer="below"))
shapes.append(dict(type="line", xref="paper", x0=0, x1=1, yref="y", y0=0, y1=0,
                   line=dict(color="#999999", width=3), layer="below"))

# legend lines
shapes.append(dict(type="line", xref="paper", yref="paper", x0=px(35), x1=px(65), y0=py(639), y1=py(639),
                   line=dict(color="#ff0000", width=4)))
shapes.append(dict(type="line", xref="paper", yref="paper", x0=px(225), x1=px(262), y0=py(639), y1=py(639),
                   line=dict(color="black", width=4)))
# title box
shapes.append(dict(type="rect", xref="paper", yref="paper", x0=px(20), x1=px(440), y0=py(666), y1=py(699),
                   line=dict(color="black", width=1.5)))


def note(text, x, y, size=10, bold=False, xanchor="left"):
    return dict(text=f"<b>{text}</b>" if bold else text, x=px(x), y=py(y), xref="paper", yref="paper",
                xanchor=xanchor, yanchor="middle", showarrow=False,
                font=dict(family=FONT, size=size, color="black"))


annotations = [
    note("Temp. 850hPa", 58, 64),
    note("Temp. 500hPa", 58, 262),
    note("Précipitations", 58, 526),
    note("(°C)", 19, 606),
    note("(mm)", 708, 606),
    note("Moyenne des scénarios", 73, 639),
    note("Contrôle/Det", 264, 639),
    note("50 Perts.", 367, 652, size=10.5),
    note("Diagramme ensembles ECMWF/CEP 0.25° sur 360h : 40.6N 22.9E", 27, 677, size=11.5, bold=True),
    note("Températures 850hPa et 500hPa (°C) , précipitations (mm)", 27, 691, size=9.8),
    note("Ensemble ECMWF/CEP du 27/08/2026 - 12Z", 447, 676, size=10),
    note("Copyright 2026 Meteociel.fr - ECMWF", 447, 691, size=11.5, bold=True),
]

# colour swatches of the members
for k, col in enumerate(member_colors):
    c, r = k % 25, k // 25
    x0 = 429.7 + 11 * c
    y0 = 645 + 6 * r
    shapes.append(dict(type="rect", xref="paper", yref="paper", x0=px(x0), x1=px(x0 + 10.3),
                       y0=py(y0), y1=py(y0 + 6), line=dict(width=0), fillcolor=col))
    annotations.append(note(f"{k + 1:02d}", x0 + 5.2, 640.5 if r == 0 else 661, size=8, bold=True,
                            xanchor="center"))

top = 33.0 - PAD / 7.0
fig.update_layout(
    width=740 - PAD, height=700 - PAD,
    margin=dict(l=50 - PAD, r=49, t=0, b=100),
    paper_bgcolor="white", plot_bgcolor="white",
    font=dict(family=FONT, size=10, color="black"),
    showlegend=False,
    shapes=shapes,
    annotations=annotations,
    xaxis=dict(type="date", range=["2026-08-27 12:00", "2026-09-11 12:00"],
               tick0="2026-08-28", dtick=86400000, tickformat="%d/%m", tickangle=-90,
               showgrid=True, gridcolor="#c0c0c0", gridwidth=1.5, zeroline=False,
               showline=True, linecolor="black", linewidth=2, ticks="",
               tickfont=dict(family=FONT, size=10)),
    yaxis=dict(range=[-52.71, top], tickvals=list(range(-45, 31, 5)),
               showgrid=True, gridcolor="#c8c8c8", gridwidth=1, zeroline=False,
               showline=True, linecolor="black", linewidth=2, ticks="", ticklabelstandoff=14,
               tickfont=dict(family=FONT, size=10)),
    yaxis2=dict(range=[-52.71 + 45, top + 45], overlaying="y", side="right", tickvals=list(range(0, 76, 5)),
                showgrid=False, zeroline=False, showline=True, linecolor="black", linewidth=2,
                ticks="", ticklabelstandoff=14, tickfont=dict(family=FONT, size=10)),
)

fig.write_html("out.html")
